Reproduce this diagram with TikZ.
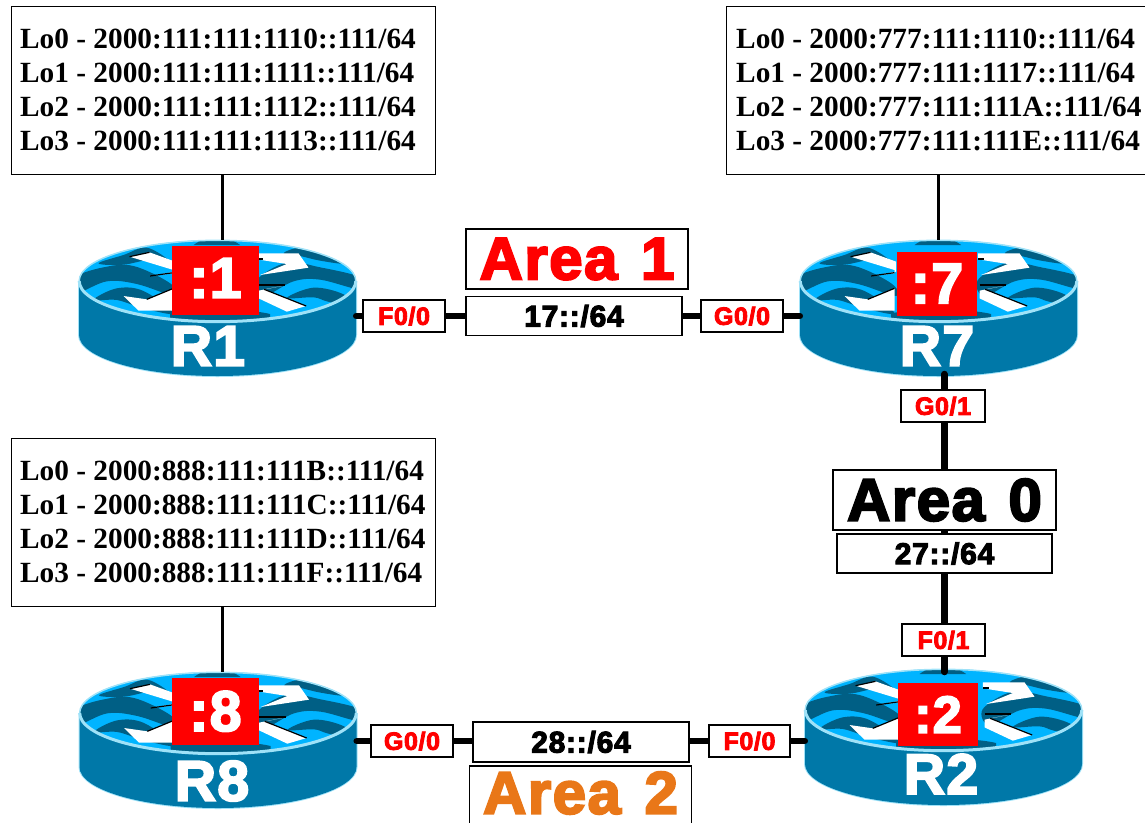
\documentclass[tikz,border=0pt]{standalone}
\usepackage{fontspec}
\usetikzlibrary{shapes.geometric}
\setmainfont{Liberation Serif}
\newfontfamily\labf{Liberation Sans}[BoldFeatures={FakeBold=3.5,LetterSpace=2.5,WordSpace=1.3}]
\definecolor{rbody}{HTML}{0078A8}
\definecolor{rtop}{HTML}{00B4FF}
\definecolor{rdark}{HTML}{005F85}
\definecolor{redge}{HTML}{9FE2F8}
\definecolor{areaor}{HTML}{E97718}
\newcommand\infofont{\bfseries\fontsize{29.3}{34}\selectfont}
\tikzset{
  x=1pt,y=-1pt,
  infobox/.style={draw=black,line width=1.2pt,fill=white,anchor=north west,inner sep=0pt},
  infotext/.style={anchor=north west,align=left,inner sep=0pt,font=\infofont},
  portbox/.style={draw=black,line width=1.2pt,fill=white,inner sep=0pt,text=red,font=\labf\bfseries\fontsize{25}{25}\selectfont,minimum height=32pt},
  netbox/.style={draw=black,line width=1.2pt,fill=white,inner sep=0pt,font=\labf\bfseries\fontsize{30}{30}\selectfont},
  areabox/.style={draw=black,line width=1.2pt,fill=white,inner sep=0pt,font=\labf\bfseries\fontsize{60}{60}\selectfont},
  areatext/.style={inner sep=0pt,font=\labf\bfseries\fontsize{60}{60}\selectfont},
  rname/.style={text=white,font=\labf\bfseries\fontsize{57}{57}\selectfont,inner sep=0pt},
  rsq/.style={fill=red,text=white,inner sep=0pt,font=\labf\bfseries\fontsize{57}{57}\selectfont},
  rghost/.style={ellipse,inner sep=0pt,minimum width=277pt,minimum height=136pt},
  thin link/.style={line width=3pt},
  link/.style={line width=6.5pt,line cap=round},
  wave/.style={fill=rdark},
  arrowwhite/.style={fill=white},
  arrowedge/.style={line width=1.2pt,black},
}
% #1 name #2 cx #3 cy #4 sq cx #5 sq cy #6 sq w #7 sq h #8 sq text
\newcommand\rtrdraw[8]{%
  \begin{scope}[shift={(#2,#3)}]
    \fill[redge] (-139.5,54) arc[start angle=180,end angle=0,x radius=139.5,y radius=42] -- (139.5,0) -- (-139.5,0) -- cycle;
    \fill[rbody] (-138.5,54) arc[start angle=180,end angle=0,x radius=138.5,y radius=41] -- (138.5,0) -- (-138.5,0) -- cycle;
    \fill[rtop] (0,0) ellipse [x radius=138.5,y radius=41];
    \begin{scope}[x=.3333pt,y=-.3333pt,shift={(-472,-183)}]
      \begin{scope}
        \clip (472,183) ellipse [x radius=415,y radius=122];
        \fill[wave] plot[smooth cycle,tension=.6] coordinates {(45,172)(130,142)(220,138)(330,190)(345,228)(230,192)(140,184)(50,218)};
        \fill[wave] plot[smooth cycle,tension=.6] coordinates {(100,240)(170,205)(250,213)(340,280)(250,265)(170,240)};
        \fill[wave] plot[smooth cycle,tension=.6] coordinates {(115,130)(190,105)(260,83)(330,125)(280,116)(190,134)};
        \fill[wave] plot[smooth cycle,tension=.6] coordinates {(590,180)(680,128)(780,142)(900,172)(900,208)(780,179)(700,184)(610,228)};
        \fill[wave] plot[smooth cycle,tension=.6] coordinates {(670,100)(720,83)(790,98)(850,130)(780,122)(720,108)};
        \fill[wave] plot[smooth cycle,tension=.6] coordinates {(680,234)(760,203)(850,223)(880,262)(800,244)(760,232)};
        \fill[wave] (330,280) .. controls (400,265) and (560,265) .. (630,282) -- (630,320) -- (330,320) -- cycle;
        \fill[wave] (400,75) .. controls (440,45) and (500,45) .. (540,75) -- cycle;
      \end{scope}
      \fill[arrowwhite] (208,110) -- (268,97) -- (345,125) -- (345,155) -- (270,168) -- (340,160) -- (340,150) -- cycle;
      \fill[arrowwhite] (590,100) -- (715,100) -- (745,143) -- (600,165) -- (680,132) -- (590,118) -- cycle;
      \fill[arrowwhite] (190,228) -- (260,238) -- (340,205) -- (340,272) -- (235,272) -- cycle;
      \fill[arrowwhite] (595,212) -- (675,196) -- (612,208) -- (738,258) -- (680,275) -- (595,235) -- cycle;
      \draw[arrowedge] (208,110) -- (268,97);
      \draw[arrowedge] (270,168) -- (340,158);
      \draw[arrowedge] (590,117) -- (608,117);
      \draw[arrowedge] (595,195) -- (675,195);
      \draw[arrowedge] (612,208) -- (738,258);
      \draw[arrowedge] (260,238) -- (340,205);
      \draw[redge,line width=3pt] (57,183) arc[start angle=180,end angle=0,x radius=415,y radius=122];
      \draw[redge,line width=1.5pt] (57,183) arc[start angle=180,end angle=360,x radius=415,y radius=122];
    \end{scope}
  \end{scope}
  \node[rghost] (#1) at (#2,#3+27) {};
  \node[rsq,minimum width=#6pt,minimum height=#7pt] (#1sq) at (#4,#5) {#8};
}
\begin{document}
\begin{tikzpicture}
\useasboundingbox (0,0) rectangle (1145,822);
% routers
\rtrdraw{R1}{217.5}{281}{215.5}{280.5}{87}{69}{\raisebox{5pt}{:1}}
\rtrdraw{R7}{938.5}{281}{937}{284}{80}{64}{\raisebox{1pt}{:7}}
\rtrdraw{R8}{218}{713}{215.5}{711.5}{87}{67}{\raisebox{1pt}{:8}}
\rtrdraw{R2}{943.5}{710}{938}{714.5}{80}{63}{\raisebox{0pt}{\fontsize{52}{52}\selectfont :2}}
\node[rname] (R1name) at (208,346) {R1};
\node[rname] (R7name) at (937,346) {R7};
\node[rname] (R8name) at (212,781) {R8};
\node[rname] (R2name) at (941,774) {R2};
% info boxes
\node[infobox,minimum width=424pt,minimum height=168pt] (infoA) at (11,6) {};
\node[infotext] (txtA) at (20,29)
 {Lo0 - 2000:111:111:1110::111/64\\Lo1 - 2000:111:111:1111::111/64\\Lo2 - 2000:111:111:1112::111/64\\Lo3 - 2000:111:111:1113::111/64};
\node[infobox,minimum width=419pt,minimum height=168pt] (infoB) at (726,6) {};
\node[infotext] (txtB) at (736,29)
 {Lo0 - 2000:777:111:1110::111/64\\Lo1 - 2000:777:111:1117::111/64\\Lo2 - 2000:777:111:111A::111/64\\Lo3 - 2000:777:111:111E::111/64};
\node[infobox,minimum width=424pt,minimum height=168pt] (infoC) at (11,438) {};
\node[infotext] (txtC) at (20,461)
 {Lo0 - 2000:888:111:111B::111/64\\Lo1 - 2000:888:111:111C::111/64\\Lo2 - 2000:888:111:111D::111/64\\Lo3 - 2000:888:111:111F::111/64};
% connectors
\draw[thin link] ([xshift=-1pt]infoA.south) -- ([xshift=-1pt]infoA.south |- R1.north);
\draw[thin link] (infoB.south -| R7.north) -- (R7.north);
\draw[thin link] ([xshift=-1pt]infoC.south) -- ([xshift=-1pt]infoC.south |- R8.north);
\draw[link] (R1.east |- 0,316) -- (R7.west |- 0,316);
\draw[link] (944.3,374) -- (944.3,672);
\draw[link] (R8.east |- 0,741) -- (R2.west |- 0,741);
% labels
\node[netbox,minimum width=216pt,minimum height=39pt] (netA) at (574,316) {17::/64};
\node[netbox,minimum width=215pt,minimum height=39pt] (netB) at (944.5,553.5) {27::/64};
\node[netbox,minimum width=216pt,minimum height=40pt] (netC) at (581,742) {28::/64};
\node[portbox,minimum width=82pt] (pA) at (404,316) {F0/0};
\node[portbox,minimum width=82pt] (pB) at (742,316) {G0/0};
\node[portbox,minimum width=84pt] (pC) at (943,406) {G0/1};
\node[portbox,minimum width=83pt] (pD) at (943.5,640) {F0/1};
\node[portbox,minimum width=82pt] (pE) at (412,741) {G0/0};
\node[portbox,minimum width=81pt] (pF) at (749.5,741) {F0/0};
\node[areabox,text=red,minimum width=222pt,minimum height=60pt] (areaA) at (577,259) {Area 1};
\node[areabox,minimum width=223pt,minimum height=60pt] (areaB) at (944.5,500) {Area 0};
\node[draw=black,line width=1.2pt,fill=white,inner sep=0pt,minimum width=222pt,minimum height=70pt] (areaCf) at (580.5,801) {};
\node[areatext,text=areaor] (areaC) at (580.5,793) {Area 2};
\end{tikzpicture}
\end{document}
